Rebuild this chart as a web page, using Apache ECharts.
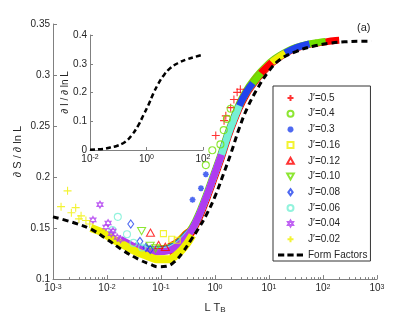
<!DOCTYPE html>
<html><head><meta charset="utf-8">
<script src="https://cdn.jsdelivr.net/npm/echarts@6/dist/echarts.min.js"></script>
<style>html,body{margin:0;padding:0;background:#fff}#c{width:415px;height:319px}</style>
</head><body><div id="c"></div>
<script>
const _ = null;
// ---------- data ----------
const seriesNames = ["J\u2032=0.5","J\u2032=0.4","J\u2032=0.3","J\u2032=0.16","J\u2032=0.12","J\u2032=0.10","J\u2032=0.08","J\u2032=0.06","J\u2032=0.04","J\u2032=0.02"];
const formName = "Form Factors";

// common L*T_B positions of the dense (collapsed) bands
const bandX = [0.00501,0.00794,0.01122,0.01778,0.03162,0.05012,0.08318,0.1413,0.2188,0.2951,0.3802,0.5012,0.7079,1.0,1.318,1.778,2.818,3.890,5.012,7.079,11.22,19.95,30.90,56.23,83.18,112.2,154.9,199.5];
const band05 = [_,_,_,_,_,_,_,0.1255,0.131,0.1385,0.1465,0.159,0.179,0.201,0.219,0.2405,0.2675,0.282,0.2905,0.3005,0.3115,0.321,0.326,0.330,0.3315,0.3325,0.3335,0.334];
const band04 = [_,_,_,_,_,_,0.1293,0.1305,0.136,0.143,0.151,0.164,0.184,0.206,0.224,0.245,0.272,0.2855,0.294,0.3035,0.3138,0.3222,0.3268,0.3305,0.332,0.333,_,_];
const band03 = [_,_,_,_,_,_,_,_,_,_,0.149,0.162,0.182,0.204,0.222,0.243,0.270,0.284,0.292,0.302,0.3125,0.3215,0.3265,0.3305,_,_,_,_];
const band016 = [_,_,_,_,_,_,_,_,0.138,0.145,0.149,0.162,0.182,0.204,0.222,0.243,0.270,0.284,0.292,0.302,0.3125,0.3215,_,_,_,_,_,_];
const band012 = [_,_,_,_,_,_,_,0.1315,0.1375,0.1445,0.149,0.162,0.182,0.204,0.222,0.243,0.270,0.284,0.292,0.302,0.3125,_,_,_,_,_,_,_];
const band010 = [_,_,_,_,_,_,0.1293,0.1308,0.1368,0.1438,0.149,0.162,0.182,0.204,0.222,0.243,0.270,0.284,0.292,0.302,_,_,_,_,_,_,_,_];
const band008 = [_,_,_,_,_,0.130,0.1285,0.130,0.136,0.143,0.149,0.162,0.182,0.204,0.222,0.243,0.270,0.284,0.292,_,_,_,_,_,_,_,_,_];
const band006 = [_,_,_,_,0.1332,0.1292,0.1277,0.1292,0.1352,0.1422,0.149,0.162,0.182,0.204,0.222,0.243,0.270,_,_,_,_,_,_,_,_,_,_,_];
const band004 = [_,_,_,0.139,0.132,0.128,0.1265,0.128,0.134,0.141,0.149,0.162,0.182,0.204,0.222,_,_,_,_,_,_,_,_,_,_,_,_,_];
const band002 = [0.150,0.146,0.141,0.135,0.128,0.1235,0.1195,0.1195,0.126,0.134,0.143,_,_,_,_,_,_,_,_,_,_,_,_,_,_,_,_,_];

// isolated (finite-size) markers [L*T_B, dS/dlnL]
const pts05 = [[1.033,0.2408],[1.472,0.2553],[1.585,0.260],[1.95,0.268],[2.24,0.276],[2.57,0.283],[2.95,0.286]];
const pts04 = [[0.676,0.2117],[0.891,0.2263],[1.26,0.232],[1.45,0.246],[1.66,0.257],[1.95,0.267]];
const pts03 = [[0.3837,0.1778],[0.5495,0.189],[0.676,0.2027]];
const pts016 = [[0.1109,0.1446],[0.1585,0.139],[0.1995,0.138]];
const pts012 = [[0.0638,0.1455],[0.0902,0.1335],[0.1202,0.1316]];
const pts010 = [[0.0437,0.147],[0.0631,0.1326],[0.0794,0.130]];
const pts008 = [[0.02754,0.154],[0.0407,0.137],[0.0525,0.131],[0.0631,0.129]];
const pts006 = [[0.01259,0.148],[0.01585,0.161],[0.02344,0.144],[0.0309,0.1355],[0.0447,0.131]];
const pts004 = [[0.0055,0.158],[0.00741,0.173],[0.00955,0.151],[0.01047,0.155],[0.01202,0.1446],[0.01288,0.147],[0.01549,0.1407],[0.01778,0.139]];
const pts002 = [[0.00141,0.171],[0.00186,0.1865],[0.00219,0.165],[0.00263,0.170],[0.00302,0.159],[0.00331,0.162],[0.00407,0.1575],[0.00479,0.154]];

// form factors curve (main)
const formX = [0.001,0.00251,0.00501,0.01,0.01995,0.03981,0.0631,0.0891,0.1259,0.1778,0.2512,0.3548,0.5012,0.7079,1,1.413,1.995,2.818,3.981,6.31,10,15.85,31.62,63.1,125.9,251.2,501.2,794];
const formY = [0.161,0.155,0.149,0.139,0.128,0.119,0.1145,0.112,0.1125,0.117,0.126,0.138,0.150,0.164,0.181,0.202,0.224,0.248,0.268,0.288,0.304,0.315,0.323,0.328,0.331,0.3325,0.333,0.333];

// inset curve dI/dlnL
const insetX = [0.01,0.0316,0.0513,0.0881,0.1738,0.2992,0.5129,0.7762,1.159,1.738,2.630,3.890,6.761,13.49,26.30,52.48,89.13];
const insetY = [0.001,0.004,0.0084,0.014,0.028,0.051,0.086,0.121,0.156,0.196,0.231,0.257,0.284,0.303,0.315,0.324,0.330];

const minorTicks = [0.002,0.003,0.004,0.005,0.006,0.007,0.008,0.009,0.02,0.03,0.04,0.05,0.06,0.07,0.08,0.09,0.2,0.3,0.4,0.5,0.6,0.7,0.8,0.9,2,3,4,5,6,7,8,9,20,30,40,50,60,70,80,90,200,300,400,500,600,700,800,900];

// ---------- styles ----------
const FONT = 'Liberation Sans, Arial, Helvetica, sans-serif';
const TXT = '#262626';
const AX = '#808080';
const colors = ['#ff0000','#70e000','#2244ee','#f0f000','#ff0000','#70e000','#2244ee','#77f0d5','#b03cf0','#f0f000'];
const PLUS = 'path://M0,5H10M5,0V10';
const STAR = 'path://M0,5H10M5,0V10M1.5,1.5L8.5,8.5M1.5,8.5L8.5,1.5';
const HEX = 'path://M5,0L9.33,7.5L0.67,7.5ZM5,10L0.67,2.5L9.33,2.5Z';
const CIRC = 'circle';
const SQR = 'path://M0,0H10V10H0Z';
const TRI = 'path://M5,0L10,9L0,9Z';
const DTRI = 'path://M0,0L10,0L5,9Z';
const DIAM = 'path://M4,0L8,5.5L4,11L0,5.5Z';
const DASH3 = 'path://M0,0H6V3H0ZM9,0H15V3H9ZM18,0H24V3H18Z';
const symbols = [PLUS,CIRC,STAR,SQR,TRI,DTRI,DIAM,CIRC,HEX,PLUS];
const sizes = [8,7,6,6,8,8,8,7,7,8];
const bands = [band05,band04,band03,band016,band012,band010,band008,band006,band004,band002];
const pts = [pts05,pts04,pts03,pts016,pts012,pts010,pts008,pts006,pts004,pts002];

function logLabel(size){
  return {
    formatter: v => '{b|10}{s|' + Math.round(Math.log10(v)) + '}',
    margin: 4,
    rich: {
      b:{fontSize:size, lineHeight:size, verticalAlign:'bottom', color:TXT, fontFamily:FONT},
      s:{fontSize:7, lineHeight:8, padding:[0,0,5,0], verticalAlign:'top', color:TXT, fontFamily:FONT}
    }
  };
}

const series = [];
bands.forEach((arr,i)=>{
  const data = bandX.map((x,k)=>[x,arr[k]]).filter(p=>p[1]!==null);
  series.push({type:'line', name:'band'+i, xAxisIndex:0, yAxisIndex:0, data, smooth:0.3,
    symbol:'none', showSymbol:false, silent:true, z:2,
    lineStyle:{width:(i===9?8:7), color:colors[i], cap:'butt', join:'round'}});
});
pts.forEach((arr,i)=>{
  series.push({type:'scatter', name:seriesNames[i], xAxisIndex:0, yAxisIndex:0, data:arr,
    symbol:symbols[i], symbolSize:sizes[i], symbolKeepAspect:true, z:3,
    itemStyle:{color:'rgba(0,0,0,0)', borderColor:colors[i], borderWidth:(i===2?1.6:1.1)}});
});
series.push({type:'line', name:formName, xAxisIndex:0, yAxisIndex:0,
  data: formX.map((x,k)=>[x,formY[k]]), smooth:0.4, symbol:'none', showSymbol:false, z:4,
  itemStyle:{color:'#000'},
  lineStyle:{color:'#000', width:3, type:[6,4]}});
series.push({type:'line', name:'inset', xAxisIndex:2, yAxisIndex:1,
  data: insetX.map((x,k)=>[x,insetY[k]]), smooth:0.4, symbol:'none', showSymbol:false, z:4,
  lineStyle:{color:'#000', width:2.5, type:[5,3]}});

const legendData = seriesNames.map(n=>({name:n})).concat([{name:formName, icon:DASH3, itemStyle:{color:'#000', borderWidth:0}}]);

const option = {
  animation:false,
  backgroundColor:'#fff',
  textStyle:{fontFamily:FONT},
  title:{text:'(a)', left:357, top:22, padding:0, textStyle:{fontSize:11, fontWeight:'normal', color:TXT, fontFamily:FONT}},
  grid:[
    {left:53, top:24, width:324, height:258},
    {left:90, top:35, width:113, height:115}
  ],
  xAxis:[
    {type:'log', gridIndex:0, min:0.001, max:1000, logBase:10, position:'bottom',
     axisLine:{lineStyle:{color:AX}}, axisTick:{inside:true, length:4, lineStyle:{color:AX}},
     axisLabel:logLabel(10), splitLine:{show:false},
     name:'{a|L T}{c|B}', nameLocation:'middle', nameGap:18,
     nameTextStyle:{rich:{a:{fontSize:11, lineHeight:12, verticalAlign:'top', color:TXT, fontFamily:FONT},
                          c:{fontSize:8, lineHeight:8, padding:[6,0,0,0], verticalAlign:'bottom', color:TXT, fontFamily:FONT}}}},
    {type:'log', gridIndex:0, min:0.001, max:1000, logBase:10, position:'bottom',
     axisLine:{show:false}, axisLabel:{show:false}, splitLine:{show:false},
     axisTick:{inside:true, length:2, customValues:minorTicks, lineStyle:{color:AX}}},
    {type:'log', gridIndex:1, min:0.01, max:100, logBase:100,
     axisLine:{lineStyle:{color:AX}}, axisTick:{inside:true, length:3, lineStyle:{color:AX}},
     axisLabel:logLabel(10), splitLine:{show:false}}
  ],
  yAxis:[
    {type:'value', gridIndex:0, min:0.1, max:0.35, interval:0.05,
     axisLine:{show:true, lineStyle:{color:AX}}, axisTick:{show:true, inside:true, length:4, lineStyle:{color:AX}},
     axisLabel:{margin:3, fontSize:10, color:TXT, fontFamily:FONT}, splitLine:{show:false},
     name:'\u2202 S / \u2202 ln L', nameLocation:'middle', nameGap:30, nameMoveOverlap:false,
     nameTextStyle:{fontSize:11, color:TXT, fontFamily:FONT}},
    {type:'value', gridIndex:1, min:0, max:0.4, interval:0.1,
     axisLine:{show:true, lineStyle:{color:AX}}, axisTick:{show:true, inside:true, length:3, lineStyle:{color:AX}},
     axisLabel:{margin:3, fontSize:10, color:TXT, fontFamily:FONT}, splitLine:{show:false},
     name:'\u2202 I / \u2202 ln L', nameLocation:'middle', nameGap:20, nameMoveOverlap:false,
     nameTextStyle:{fontSize:10, color:TXT, fontFamily:FONT}}
  ],
  legend:{
    data: legendData,
    orient:'vertical', left:273, top:86, itemWidth:25, itemHeight:6, itemGap:3.7,
    symbolKeepAspect:true,
    padding:[6,3,0,5], borderColor:'#333', borderWidth:1, backgroundColor:'#fff',
    selectedMode:false,
    textStyle:{fontSize:10, lineHeight:12, color:TXT, fontFamily:FONT}
  },
  series
};
const chart = echarts.init(document.getElementById('c'), null, {renderer:'canvas'});
chart.setOption(option);
</script></body></html>
